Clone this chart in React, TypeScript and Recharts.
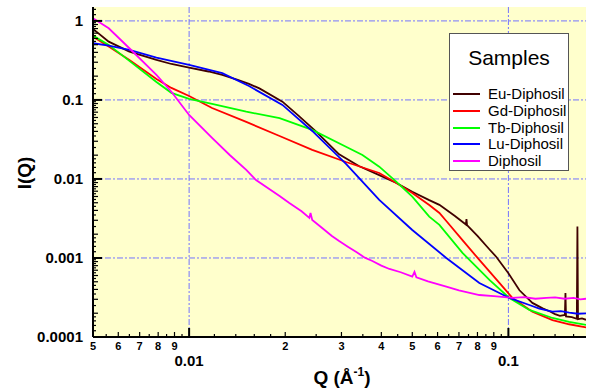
import React from "react";
import { LineChart, Line, XAxis, YAxis, CartesianGrid } from "recharts";

// Q (1/Å) and I(Q), one pair of arrays per sample
const EU_Q = [0.005, 0.0056, 0.0065, 0.0079, 0.0088, 0.01, 0.0115, 0.0127, 0.0142, 0.0154, 0.0166, 0.0196, 0.022, 0.025, 0.0295, 0.034, 0.0394, 0.0446, 0.05, 0.0565, 0.0608, 0.068, 0.0736, 0.0739, 0.0742, 0.08, 0.087, 0.0917, 0.1, 0.1083, 0.1189, 0.128, 0.135, 0.14, 0.145, 0.1503, 0.1509, 0.1515, 0.158, 0.1638, 0.1645, 0.1652, 0.17, 0.175];
const EU_I = [0.792, 0.547, 0.409, 0.321, 0.285, 0.256, 0.229, 0.207, 0.179, 0.16, 0.14, 0.0952, 0.0633, 0.0397, 0.0205, 0.0146, 0.0112, 0.0089, 0.0069, 0.0054, 0.0047, 0.0034, 0.00265, 0.0031, 0.0026, 0.0019, 0.0013, 0.00103, 0.00064, 0.00039, 0.00027, 0.00023, 0.00021, 0.000195, 0.000185, 0.00019, 0.00036, 0.000182, 0.000178, 0.00017, 0.0025, 0.000168, 0.000172, 0.000165];

const GD_Q = [0.005, 0.0056, 0.0065, 0.0079, 0.0088, 0.01, 0.0118, 0.0151, 0.0192, 0.0243, 0.031, 0.0394, 0.0446, 0.05, 0.0565, 0.0608, 0.0639, 0.0718, 0.0811, 0.0937, 0.1029, 0.1189, 0.1374, 0.155, 0.175];
const GD_I = [0.633, 0.473, 0.321, 0.184, 0.142, 0.112, 0.079, 0.0527, 0.035, 0.0233, 0.0164, 0.0119, 0.0089, 0.00665, 0.00468, 0.00371, 0.00294, 0.00168, 0.000944, 0.000483, 0.000312, 0.000209, 0.000164, 0.000145, 0.000132];

const TB_Q = [0.005, 0.0056, 0.0065, 0.0079, 0.0088, 0.01, 0.0118, 0.0151, 0.0192, 0.0243, 0.031, 0.0349, 0.0394, 0.0446, 0.05, 0.0565, 0.0608, 0.0718, 0.0872, 0.1007, 0.1163, 0.1374, 0.155, 0.175];
const TB_I = [0.652, 0.497, 0.312, 0.169, 0.123, 0.103, 0.089, 0.0711, 0.0587, 0.0417, 0.0256, 0.0201, 0.0143, 0.0092, 0.00597, 0.00333, 0.00262, 0.00116, 0.000527, 0.000312, 0.00022, 0.000174, 0.000155, 0.000142];

const LU_Q = [0.005, 0.0056, 0.0065, 0.0079, 0.01, 0.0127, 0.0154, 0.0196, 0.0243, 0.031, 0.0394, 0.05, 0.0639, 0.0811, 0.1007, 0.1163, 0.125, 0.1374, 0.146, 0.155, 0.165, 0.175];
const LU_I = [0.522, 0.487, 0.43, 0.343, 0.277, 0.218, 0.15, 0.0865, 0.0405, 0.0155, 0.00542, 0.00226, 0.001, 0.000483, 0.000312, 0.000254, 0.000228, 0.000209, 0.000212, 0.000203, 0.000197, 0.000199];

const DI_Q = [0.005, 0.0056, 0.0065, 0.0079, 0.0088, 0.01, 0.0118, 0.0134, 0.0151, 0.0162, 0.0192, 0.0206, 0.0225, 0.0238, 0.024, 0.0243, 0.0261, 0.028, 0.0295, 0.0315, 0.0334, 0.0355, 0.0375, 0.04, 0.0424, 0.046, 0.05, 0.0508, 0.0515, 0.056, 0.0639, 0.07, 0.0811, 0.09, 0.1029, 0.112, 0.1215, 0.1315, 0.14, 0.15, 0.16, 0.168, 0.175];
const DI_I = [1.08, 0.808, 0.451, 0.207, 0.127, 0.0646, 0.033, 0.0201, 0.013, 0.0097, 0.0061, 0.00497, 0.0039, 0.00321, 0.0037, 0.00303, 0.0024, 0.0019, 0.00164, 0.00138, 0.00119, 0.00101, 0.000916, 0.0008, 0.000726, 0.00066, 0.00058, 0.000665, 0.00057, 0.000505, 0.000433, 0.00039, 0.00034, 0.00033, 0.000313, 0.00032, 0.000305, 0.000313, 0.000318, 0.000305, 0.000312, 0.0003, 0.000305];

const SERIES = [
  { name: "Eu-Diphosil", color: "#400000", q: EU_Q, i: EU_I },
  { name: "Gd-Diphosil", color: "#ff0000", q: GD_Q, i: GD_I },
  { name: "Tb-Diphosil", color: "#00ff00", q: TB_Q, i: TB_I },
  { name: "Lu-Diphosil", color: "#0000ff", q: LU_Q, i: LU_I },
  { name: "Diphosil", color: "#ff00ff", q: DI_Q, i: DI_I },
];

const X_DOMAIN = [0.005, 0.175];
const Y_DOMAIN = [0.0001, 1.5];
const X_MAJOR = [0.01, 0.1];
const X_MINOR = [0.005, 0.006, 0.007, 0.008, 0.009, 0.02, 0.03, 0.04, 0.05, 0.06, 0.07, 0.08, 0.09];
const Y_MAJOR = [0.0001, 0.001, 0.01, 0.1, 1];
const MINOR_MANTISSA = [2, 3, 4, 5, 6, 7, 8, 9];
const SUB_MANTISSA = [1.2, 1.4, 1.6, 1.8, 2.5, 3.5, 4.5, 5.5, 6.5, 7.5, 8.5, 9.5];
const DECADES = [0.0001, 0.001, 0.01, 0.1, 1];

const inside = (v: number, d: number[]) => v >= d[0] * 0.9999 && v <= d[1] * 1.0001;
const Y_MINOR = DECADES.flatMap((d) => MINOR_MANTISSA.map((m) => d * m)).filter((v) => inside(v, Y_DOMAIN));
const X_SUB = DECADES.flatMap((d) => SUB_MANTISSA.map((m) => d * m)).filter((v) => inside(v, X_DOMAIN));
const Y_SUB = DECADES.flatMap((d) => SUB_MANTISSA.map((m) => d * m)).filter((v) => inside(v, Y_DOMAIN));
const X_TICKS = [...X_MAJOR, ...X_MINOR, ...X_SUB].sort((a, b) => a - b);
const Y_TICKS = [...Y_MAJOR, ...Y_MINOR, ...Y_SUB].sort((a, b) => a - b);

const xMajorSet = new Set(X_MAJOR);
const xMinorSet = new Set(X_MINOR);
const yMajorSet = new Set(Y_MAJOR);
const yMinorSet = new Set(Y_MINOR);
const LEN = { major: 9, minor: 5, sub: 3 };

const kindOf = (v: number, major: Set<number>, minor: Set<number>) =>
  major.has(v) ? "major" : minor.has(v) ? "minor" : "sub";
const mantissa = (v: number) => Math.round(v / Math.pow(10, Math.floor(Math.log10(v) + 1e-9)));

const FONT = 'Arial, "Liberation Sans", sans-serif';

const BottomTick = (p: any) => {
  const v = p.payload.value;
  const kind = kindOf(v, xMajorSet, xMinorSet);
  return (
    <g>
      <line x1={p.x} x2={p.x} y1={p.y} y2={p.y - LEN[kind]} stroke="#000" strokeWidth={kind === "major" ? 2 : 1.2} />
      {kind === "minor" && (
        <text x={p.x} y={p.y + 13} textAnchor="middle" fontSize={11} fontWeight="bold" fill="#000">
          {mantissa(v)}
        </text>
      )}
      {kind === "major" && (
        <text x={p.x} y={p.y + 29} textAnchor="middle" fontSize={15} fontWeight="bold" fill="#000">
          {String(v)}
        </text>
      )}
    </g>
  );
};

const TopTick = (p: any) => {
  const kind = kindOf(p.payload.value, xMajorSet, xMinorSet);
  return <line x1={p.x} x2={p.x} y1={p.y} y2={p.y + LEN[kind]} stroke="#000" strokeWidth={kind === "major" ? 2 : 1.2} />;
};

const LeftTick = (p: any) => {
  const v = p.payload.value;
  const kind = kindOf(v, yMajorSet, yMinorSet);
  return (
    <g>
      <line x1={p.x} x2={p.x + LEN[kind]} y1={p.y} y2={p.y} stroke="#000" strokeWidth={kind === "major" ? 2 : 1.2} />
      {kind === "major" && (
        <text x={p.x - 10} y={p.y + 5} textAnchor="end" fontSize={15} fontWeight="bold" fill="#000">
          {String(v)}
        </text>
      )}
    </g>
  );
};

const RightTick = (p: any) => {
  const kind = kindOf(p.payload.value, yMajorSet, yMinorSet);
  return <line x1={p.x} x2={p.x - LEN[kind]} y1={p.y} y2={p.y} stroke="#000" strokeWidth={kind === "major" ? 2 : 1.2} />;
};

export default function App() {
  return (
    <div style={{ position: "absolute", left: 0, top: 0, width: 590, height: 392, background: "#fff", fontFamily: FONT }}>
      <LineChart width={590} height={392} margin={{ top: 7, right: 4, bottom: 0, left: 0 }}>
        <CartesianGrid
          xAxisId="b"
          yAxisId="l"
          fill="#ffffcc"
          stroke="#7373ff"
          strokeDasharray="6 2 2 2"
          horizontalValues={[1, 0.1, 0.01, 0.001]}
          verticalValues={[0.01, 0.1]}
        />
        <XAxis
          xAxisId="b"
          dataKey="q"
          type="number"
          scale="log"
          domain={X_DOMAIN}
          allowDataOverflow
          ticks={X_TICKS}
          interval={0}
          tick={BottomTick}
          tickLine={false}
          tickSize={0}
          tickMargin={0}
          height={55}
          axisLine={{ stroke: "#000", strokeWidth: 2 }}
        />
        <XAxis
          xAxisId="t"
          orientation="top"
          dataKey="q"
          type="number"
          scale="log"
          domain={X_DOMAIN}
          allowDataOverflow
          ticks={X_TICKS}
          interval={0}
          tick={TopTick}
          tickLine={false}
          tickSize={0}
          tickMargin={0}
          height={0}
          axisLine={{ stroke: "#000", strokeWidth: 1.5 }}
        />
        <YAxis
          yAxisId="l"
          type="number"
          scale="log"
          domain={Y_DOMAIN}
          allowDataOverflow
          ticks={Y_TICKS}
          interval={0}
          tick={LeftTick}
          tickLine={false}
          tickSize={0}
          tickMargin={0}
          width={93}
          axisLine={{ stroke: "#000", strokeWidth: 2 }}
        />
        <YAxis
          yAxisId="r"
          orientation="right"
          type="number"
          scale="log"
          domain={Y_DOMAIN}
          allowDataOverflow
          ticks={Y_TICKS}
          interval={0}
          tick={RightTick}
          tickLine={false}
          tickSize={0}
          tickMargin={0}
          width={0}
          axisLine={{ stroke: "#000", strokeWidth: 1.5 }}
        />
        {SERIES.map((s) => (
          <Line
            key={s.name}
            xAxisId="b"
            yAxisId="l"
            name={s.name}
            data={s.q.map((q, k) => ({ q, i: s.i[k] }))}
            dataKey="i"
            type="linear"
            stroke={s.color}
            strokeWidth={1.8}
            dot={false}
            activeDot={false}
            isAnimationActive={false}
          />
        ))}
      </LineChart>

      <div style={{ position: "absolute", left: 0, top: 0, width: 590, height: 392, pointerEvents: "none" }}>
        <div
          style={{
            position: "absolute",
            left: 25,
            top: 173,
            transform: "translate(-50%, -50%) rotate(-90deg)",
            fontSize: 19,
            fontWeight: "bold",
            whiteSpace: "nowrap",
          }}
        >
          I(Q)
        </div>
        <div
          style={{
            position: "absolute",
            left: 342,
            top: 377,
            transform: "translate(-50%, -50%)",
            fontSize: 19,
            fontWeight: "bold",
            whiteSpace: "nowrap",
          }}
        >
          Q (Å<sup style={{ fontSize: 12 }}>-1</sup>)
        </div>

        <div
          style={{
            position: "absolute",
            left: 449,
            top: 33,
            width: 120,
            height: 138,
            background: "#fff",
            border: "1px solid #555",
            boxSizing: "border-box",
          }}
        >
          <div style={{ position: "absolute", left: 0, right: 0, top: 12, textAlign: "center", fontSize: 21, lineHeight: "24px" }}>
            Samples
          </div>
          {SERIES.map((s, k) => (
            <div key={s.name} style={{ position: "absolute", left: 3, top: 51 + k * 16.8, height: 18, display: "flex", alignItems: "center" }}>
              <div style={{ width: 27, height: 2, background: s.color }} />
              <span style={{ marginLeft: 8, fontSize: 15, lineHeight: "18px", whiteSpace: "nowrap" }}>{s.name}</span>
            </div>
          ))}
        </div>
      </div>
    </div>
  );
}
